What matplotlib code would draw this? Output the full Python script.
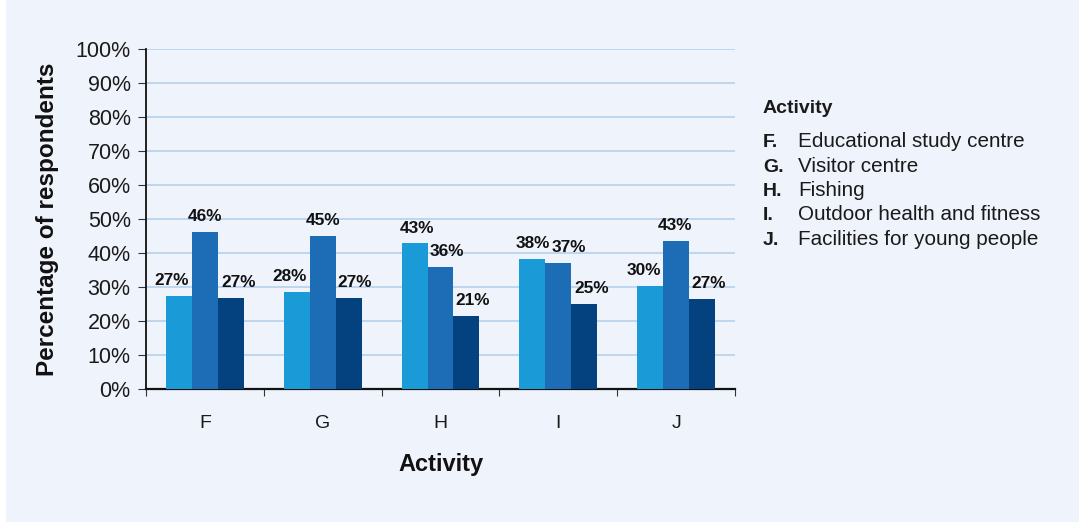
import matplotlib
matplotlib.use("Agg")
import matplotlib.pyplot as plt
import numpy as np
from matplotlib.patches import Rectangle

plt.rcParams['font.family'] = ['Liberation Sans', 'DejaVu Sans']

categories = ["F", "G", "H", "I", "J"]
series_a = [27.4, 28.5, 42.9, 38.2, 30.3]
series_b = [46.2, 45.0, 35.9, 37.1, 43.5]
series_c = [26.8, 26.8, 21.5, 25.0, 26.5]
labels_a = ["27%", "28%", "43%", "38%", "30%"]
labels_b = ["46%", "45%", "36%", "37%", "43%"]
labels_c = ["27%", "27%", "21%", "25%", "27%"]
legend_keys = ["F.", "G.", "H.", "I.", "J."]
legend_names = ["Educational study centre", "Visitor centre", "Fishing",
                "Outdoor health and fitness", "Facilities for young people"]
y_ticks = list(range(0, 101, 10))

# horizontal nudges of the value labels (pixels), as placed in the original
nudge_a = [-7, -7, 2, 0, -6]
nudge_b = [0, 0, 6, 11, -1]
nudge_c = [8, 6, 6, 7, 7]

bg = "#eff3fb"
colors = ["#1a9bd7", "#1c6db6", "#03427f"]

fig = plt.figure(figsize=(10.79, 5.22), dpi=100, facecolor=bg)
fig.patches.append(Rectangle((0, 0), 6 / 1079, 1, transform=fig.transFigure,
                             facecolor="white", edgecolor="none", zorder=0))
ax = fig.add_axes([146 / 1079, 1 - 389 / 522, 589 / 1079, 340 / 522])
ax.set_facecolor(bg)

x = np.arange(len(categories))
w = 0.22
series = [series_a, series_b, series_c]
labels = [labels_a, labels_b, labels_c]
nudges = [nudge_a, nudge_b, nudge_c]
for i, (vals, labs, nd) in enumerate(zip(series, labels, nudges)):
    xs = x + (i - 1) * w
    ax.bar(xs, vals, width=w, color=colors[i], zorder=3)
    for xi, v, lab, n in zip(xs, vals, labs, nd):
        ax.annotate(lab, (xi, v), xytext=(n * 0.72, 5.5), textcoords="offset points",
                    ha="center", va="bottom", fontsize=12.4, fontweight="bold",
                    color="#111111", zorder=4)

ax.set_xlim(-0.5, len(categories) - 0.5)
ax.set_ylim(0, 100)
ax.set_yticks(y_ticks)
ax.set_yticklabels([f"{t}%" for t in y_ticks], fontsize=15.5, color="#1a1a1a")
ax.yaxis.grid(True, color="#b9d5ee", linewidth=1.3, zorder=0)
ax.set_axisbelow(True)

ax.set_xticks(x)
ax.set_xticklabels(categories, fontsize=14, color="#1a1a1a")
ax.tick_params(axis="x", length=0, pad=19)
ax.set_xticks(np.arange(-0.5, len(categories)), minor=True)
ax.tick_params(axis="x", which="minor", length=5, width=0.8, color="#333333", direction="out")
ax.tick_params(axis="y", length=6, width=0.8, color="#333333", pad=5)

for s in ["top", "right"]:
    ax.spines[s].set_visible(False)
ax.spines["left"].set_linewidth(1.3)
ax.spines["bottom"].set_linewidth(1.6)
ax.spines["left"].set_color("#111111")
ax.spines["bottom"].set_color("#111111")

ax.set_xlabel("Activity", fontsize=17, fontweight="bold", labelpad=15, color="#111111")
ax.set_ylabel("Percentage of respondents", fontsize=17.5, fontweight="bold",
              labelpad=12, color="#111111")

# legend (text list)
fig.text(763 / 1079, 1 - 113 / 522, "Activity", fontsize=14, fontweight="bold",
         va="baseline", ha="left", color="#1a1a1a")
y0 = 147
for k, (key, name) in enumerate(zip(legend_keys, legend_names)):
    yy = 1 - (y0 + 24.5 * k) / 522
    fig.text(763 / 1079, yy, key, fontsize=14, fontweight="bold", va="baseline",
             ha="left", color="#1a1a1a")
    fig.text(798 / 1079, yy, name, fontsize=14.9, va="baseline", ha="left", color="#1a1a1a")

fig.savefig("out.png", dpi=100, facecolor=bg)
